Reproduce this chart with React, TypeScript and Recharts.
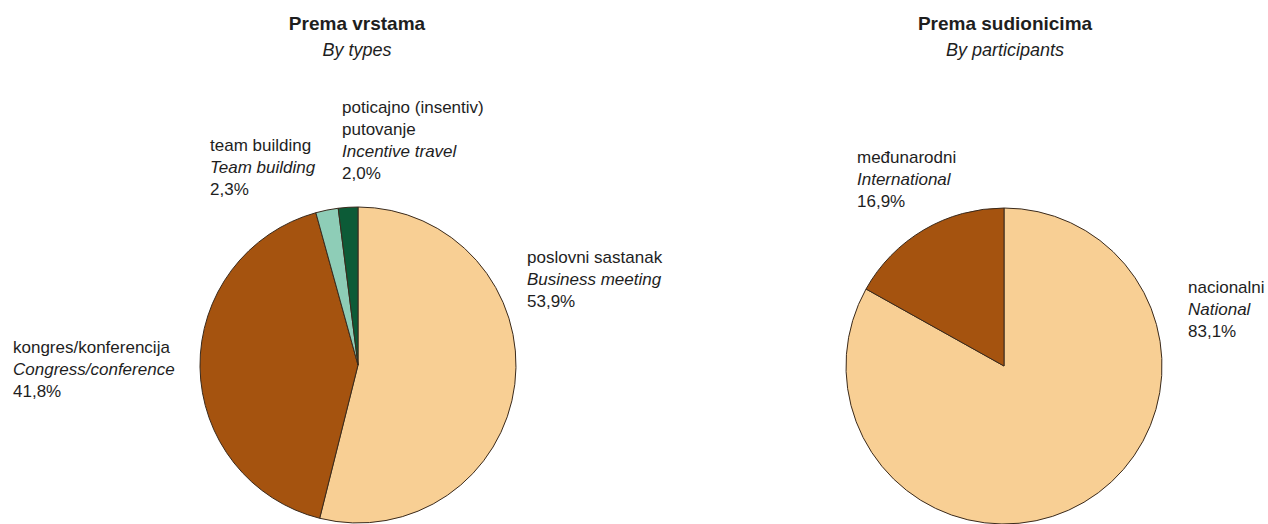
import React from "react";
import { PieChart, Pie, Cell } from "recharts";

// ---- Data ----
const typeNamesHr = ["poslovni sastanak", "kongres/konferencija", "team building", "poticajno (insentiv)|putovanje"];
const typeNamesEn = ["Business meeting", "Congress/conference", "Team building", "Incentive travel"];
const typeValues = [53.9, 41.8, 2.3, 2.0];

const partNamesHr = ["nacionalni", "međunarodni"];
const partNamesEn = ["National", "International"];
const partValues = [83.1, 16.9];

const titles = [
  { hr: "Prema vrstama", en: "By types" },
  { hr: "Prema sudionicima", en: "By participants" },
];

// ---- Styles / layout ----
const typeColors = ["#F8CF94", "#A5530F", "#8ECDB7", "#0C5B37"];
const partColors = ["#F8CF94", "#A5530F"];
const STROKE = "#3a2a1c";
const FONT = "'Liberation Sans', Arial, Helvetica, sans-serif";
const TEXT = "#1e1e1e";
// label anchor offsets relative to pie centre (first line centre)
const typeLabelOffsets = [
  [169, -108],
  [-345, -18],
  [-148, -220],
  [-16, -258],
];
const partLabelOffsets = [
  [184, -79],
  [-147, -209],
];

const fmt = (v: number) => v.toFixed(1).replace(".", ",") + "%";

const typeData = typeValues.map((v, i) => ({ name: typeNamesEn[i], hr: typeNamesHr[i], en: typeNamesEn[i], value: v }));
const partData = partValues.map((v, i) => ({ name: partNamesEn[i], hr: partNamesHr[i], en: partNamesEn[i], value: v }));

const makeLabel = (data: any[], offsets: number[][]) => (props: any) => {
  const { cx, cy, index } = props;
  const d = data[index];
  const [dx, dy] = offsets[index];
  const x = cx + dx;
  const y0 = cy + dy + 6;
  const lh = 22;
  const lines: { t: string; italic: boolean }[] = [];
  d.hr.split("|").forEach((t: string) => lines.push({ t, italic: false }));
  lines.push({ t: d.en, italic: true });
  lines.push({ t: fmt(d.value), italic: false });
  return (
    <text x={x} y={y0} fill={TEXT} fontFamily={FONT} fontSize={17} textAnchor="start">
      {lines.map((l, i) => (
        <tspan key={i} x={x} y={y0 + i * lh} fontStyle={l.italic ? "italic" : "normal"}>
          {l.t}
        </tspan>
      ))}
    </text>
  );
};

export default function App() {
  return (
    <div style={{ position: "absolute", left: 0, top: 0, width: 1268, height: 524, background: "#fff" }}>
      {[357, 1005].map((x, i) => (
        <div
          key={i}
          style={{
            position: "absolute",
            left: x - 150,
            width: 300,
            top: 11,
            textAlign: "center",
            fontFamily: FONT,
            color: TEXT,
            lineHeight: "26px",
          }}
        >
          <div style={{ fontWeight: "bold", fontSize: 19 }}>{titles[i].hr}</div>
          <div style={{ fontStyle: "italic", fontSize: 18 }}>{titles[i].en}</div>
        </div>
      ))}
      <PieChart
        width={1268}
        height={524}
        margin={{ top: 0, right: 0, bottom: 0, left: 0 }}
        style={{ position: "absolute", left: 0, top: 0 }}
      >
        <Pie
          data={typeData}
          dataKey="value"
          cx={358}
          cy={365}
          outerRadius={158}
          startAngle={90}
          endAngle={-270}
          stroke={STROKE}
          strokeWidth={1}
          isAnimationActive={false}
          labelLine={false}
          label={makeLabel(typeData, typeLabelOffsets)}
        >
          {typeData.map((_, i) => (
            <Cell key={i} fill={typeColors[i]} />
          ))}
        </Pie>
        <Pie
          data={partData}
          dataKey="value"
          cx={1004}
          cy={366}
          outerRadius={158}
          startAngle={90}
          endAngle={-270}
          stroke={STROKE}
          strokeWidth={1}
          isAnimationActive={false}
          labelLine={false}
          label={makeLabel(partData, partLabelOffsets)}
        >
          {partData.map((_, i) => (
            <Cell key={i} fill={partColors[i]} />
          ))}
        </Pie>
      </PieChart>
    </div>
  );
}
